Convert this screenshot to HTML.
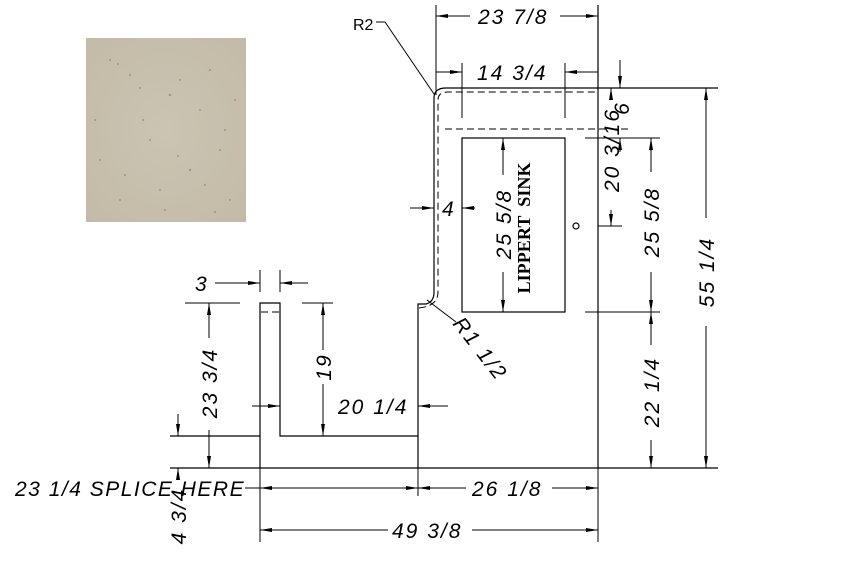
<!DOCTYPE html>
<html><head><meta charset="utf-8"><style>
html,body{margin:0;padding:0;background:#fff;width:848px;height:567px;overflow:hidden}
svg text{font-family:"Liberation Sans",sans-serif;font-style:italic;font-size:21px;fill:#000;white-space:pre;letter-spacing:2px}
</style></head><body>
<svg width="848" height="567" viewBox="0 0 848 567" xmlns="http://www.w3.org/2000/svg">
<defs>
<marker id="a" viewBox="0 0 12 4" refX="12" refY="2" markerWidth="12" markerHeight="4" markerUnits="userSpaceOnUse" orient="auto-start-reverse"><path d="M0,0 L12,2 L0,4z" fill="#000"/></marker>
<radialGradient id="g" cx="0.5" cy="0.5" r="0.7"><stop offset="0" stop-color="#cbc4b2"/><stop offset="1" stop-color="#c3bba7"/></radialGradient>
</defs>
<rect x="86" y="38" width="160" height="184" fill="url(#g)"/>
<g fill="#8f826c" opacity="0.7">
<circle cx="110" cy="60" r="1"/><circle cx="130" cy="75" r="1"/><circle cx="170" cy="95" r="1.2"/><circle cx="200" cy="110" r="1"/><circle cx="150" cy="140" r="1"/><circle cx="220" cy="150" r="1"/><circle cx="100" cy="160" r="1"/><circle cx="190" cy="170" r="1.2"/><circle cx="120" cy="200" r="1"/><circle cx="230" cy="200" r="1"/><circle cx="160" cy="190" r="1"/><circle cx="210" cy="70" r="1"/>
<circle cx="118" cy="64" r="1"/><circle cx="140" cy="88" r="1"/><circle cx="180" cy="80" r="1"/><circle cx="235" cy="100" r="1"/><circle cx="95" cy="120" r="1"/><circle cx="125" cy="175" r="1"/><circle cx="205" cy="185" r="1"/><circle cx="225" cy="130" r="1"/><circle cx="165" cy="210" r="1"/><circle cx="143" cy="120" r="1"/><circle cx="178" cy="156" r="1"/><circle cx="215" cy="212" r="1"/>
</g>
<g stroke="#000" stroke-width="1.2" fill="none">
<path d="M170,468 H718"/>
<path d="M260,468 V303 H280 V436 H418"/>
<path d="M418,468 V304 H426 Q434,302 434,292 V98 Q434,88 446,88 H718"/>
<path d="M598,5 V468"/>
<rect x="462" y="138" width="103" height="174"/>
<circle cx="576" cy="226" r="3"/>
<path d="M170,436 H260"/>
</g>
<g stroke="#000" stroke-width="1" fill="none" stroke-dasharray="7,4">
<path d="M419,308 Q438,306 438,292 V100 Q438,92 448,92 H598"/>
<path d="M445,129 H630"/>
<path d="M261,312 H279"/>
</g>
<g stroke="#000" stroke-width="1" fill="none">
<path d="M436,5 V95 M462,63 V118 M565,63 V118"/>
<path d="M585,138 H660 M585,312 H660 M598,226 H622"/>
<path d="M260,270 V292 M280,270 V292"/>
<path d="M185,303 H240 M302,303 H333"/>
<path d="M418,468 V496 M260,468 V542 M598,468 V542"/>
<path d="M376,22 H385 L434,94"/>
<path d="M427,300 L456,322"/>
<path d="M470,16 H436" marker-end="url(#a)"/>
<path d="M560,16 H598" marker-end="url(#a)"/>
<path d="M436,72 H462" marker-end="url(#a)"/>
<path d="M598,72 H565" marker-end="url(#a)"/>
<path d="M620,60 V88" marker-end="url(#a)"/>
<path d="M620,152 V138" marker-end="url(#a)"/>
<path d="M611,100 V88" marker-end="url(#a)"/>
<path d="M611,210 V226" marker-end="url(#a)"/>
<path d="M651,172 V138" marker-end="url(#a)"/>
<path d="M651,272 V312" marker-end="url(#a)"/>
<path d="M651,345 V312" marker-end="url(#a)"/>
<path d="M651,440 V468" marker-end="url(#a)"/>
<path d="M706,218 V88" marker-end="url(#a)"/>
<path d="M706,326 V468" marker-end="url(#a)"/>
<path d="M503,175 V138" marker-end="url(#a)"/>
<path d="M503,272 V312" marker-end="url(#a)"/>
<path d="M410,208 H434" marker-end="url(#a)"/>
<path d="M475,208 H462" marker-end="url(#a)"/>
<path d="M215,283 H260" marker-end="url(#a)"/>
<path d="M308,283 H280" marker-end="url(#a)"/>
<path d="M209,338 V303" marker-end="url(#a)"/>
<path d="M209,430 V468" marker-end="url(#a)"/>
<path d="M323,350 V303" marker-end="url(#a)"/>
<path d="M323,384 V436" marker-end="url(#a)"/>
<path d="M252,406 H280" marker-end="url(#a)"/>
<path d="M448,406 H418" marker-end="url(#a)"/>
<path d="M178,414 V436" marker-end="url(#a)"/>
<path d="M178,480 V468" marker-end="url(#a)"/>
<path d="M245,488 H418" marker-end="url(#a)"/>
<path d="M340,488 H260" marker-end="url(#a)"/>
<path d="M466,488 H418" marker-end="url(#a)"/>
<path d="M552,488 H598" marker-end="url(#a)"/>
<path d="M388,530 H260" marker-end="url(#a)"/>
<path d="M472,530 H598" marker-end="url(#a)"/>
</g>
<text x="478" y="24">23 7/8</text>
<text x="477" y="80">14 3/4</text>
<text x="353" y="30" style="font-style:normal;font-size:16px;letter-spacing:0">R2</text>
<text x="442" y="216">4</text>
<text x="195" y="291">3</text>
<text x="338" y="414">20 1/4</text>
<text x="15" y="496" style="letter-spacing:1.5px">23 1/4 SPLICE HERE</text>
<text x="472" y="496">26 1/8</text>
<text x="392" y="538">49 3/8</text>
<text transform="translate(530,228) rotate(-90)" text-anchor="middle" textLength="131" lengthAdjust="spacing" style="font-style:normal;font-family:'Liberation Serif',serif;font-weight:bold;font-size:18px;letter-spacing:0">LIPPERT  SINK</text>
<text transform="translate(511,224) rotate(-90)" text-anchor="middle">25 5/8</text>
<text transform="translate(659,222) rotate(-90)" text-anchor="middle">25 5/8</text>
<text transform="translate(659,392) rotate(-90)" text-anchor="middle">22 1/4</text>
<text transform="translate(714,272) rotate(-90)" text-anchor="middle">55 1/4</text>
<text transform="translate(619,150) rotate(-90)" text-anchor="middle">20 3/16</text>
<text transform="translate(629,108) rotate(-90)" text-anchor="middle">6</text>
<text transform="translate(217,383) rotate(-90)" text-anchor="middle">23 3/4</text>
<text transform="translate(331,367) rotate(-90)" text-anchor="middle">19</text>
<text transform="translate(186,516) rotate(-90)" text-anchor="middle">4 3/4</text>
<text transform="translate(452,324) rotate(52)">R1 1/2</text>
</svg>
</body></html>
